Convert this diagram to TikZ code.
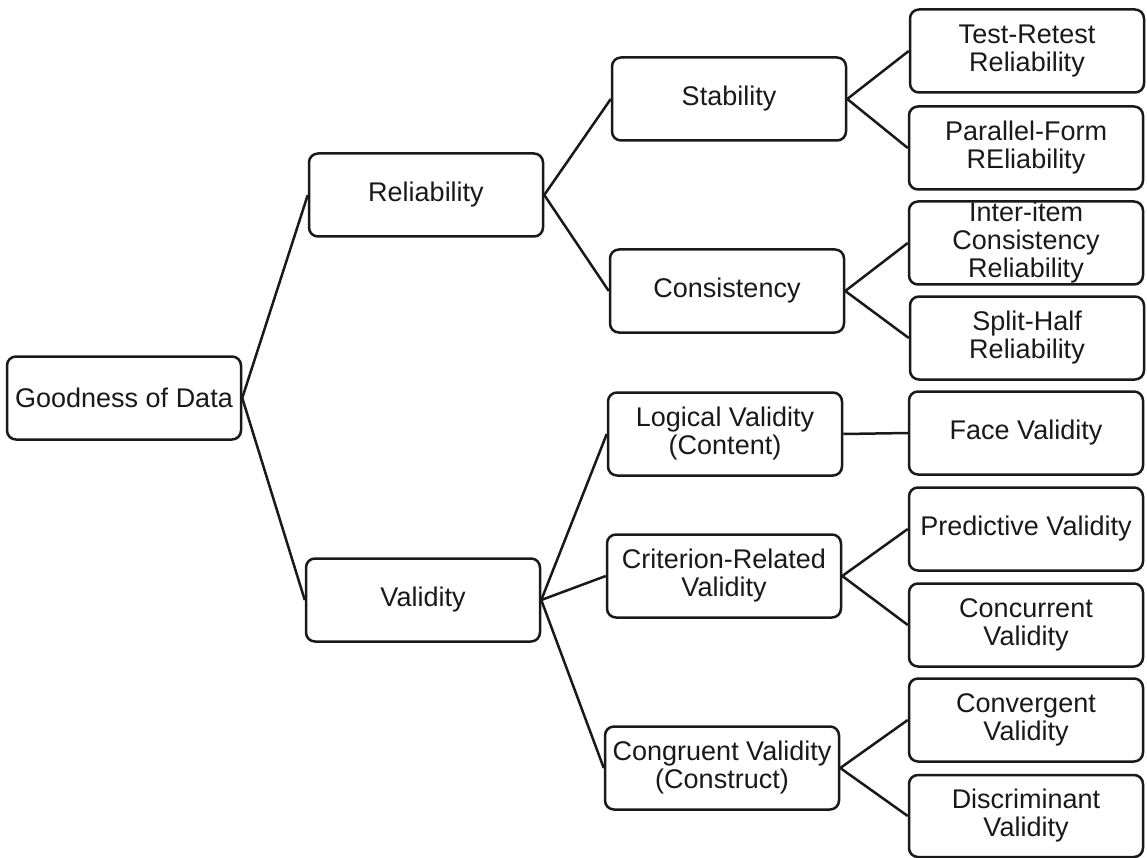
\documentclass[tikz,border=0pt]{standalone}
\usepackage{fontspec}
\setmainfont{Liberation Sans}
\begin{document}
\begin{tikzpicture}[x=1pt,y=-1pt,
  box/.style={draw=black!90, line width=2.5pt, rounded corners=9pt, fill=white,
    minimum width=234pt, minimum height=83pt, align=center, inner sep=0pt,
    text=black!90, font=\fontsize{27}{28}\selectfont},
  link/.style={draw=black!90, line width=2.5pt}]
\fill[white] (0,0) rectangle (1147,858);
\useasboundingbox (0,0) rectangle (1147,858);
% level 0
\node[box] (good) at (124,398) {Goodness of Data};
% level 1
\node[box] (rel) at (426,195) {Reliability};
\node[box] (val) at (423,600) {Validity};
% level 2
\node[box] (stab) at (729,99) {Stability};
\node[box] (cons) at (727,291) {Consistency};
\node[box] (logi) at (725,434) {Logical Validity\\(Content)};
\node[box] (crit) at (724,576) {Criterion-Related\\Validity};
\node[box] (cong) at (722,768) {Congruent Validity\\(Construct)};
% level 3
\node[box] (tr) at (1027,51) {Test-Retest\\Reliability};
\node[box] (pf) at (1026,148) {Parallel-Form\\REliability};
\node[box] (ii) at (1026,243) {Inter-item\\Consistency\\Reliability};
\node[box] (sh) at (1027,338) {Split-Half\\Reliability};
\node[box] (face) at (1026,433) {Face Validity};
\node[box] (pred) at (1026,529) {Predictive Validity};
\node[box] (conc) at (1026,625) {Concurrent\\Validity};
\node[box] (conv) at (1026,720) {Convergent\\Validity};
\node[box, minimum height=82pt] (disc) at (1026,816) {Discriminant\\Validity};
% connectors
\draw[link] (good.east) -- (rel.west);
\draw[link] (good.east) -- (val.west);
\draw[link] (rel.east) -- (stab.west);
\draw[link] (rel.east) -- (cons.west);
\draw[link] (val.east) -- (logi.west);
\draw[link] (val.east) -- (crit.west);
\draw[link] (val.east) -- (cong.west);
\draw[link] (stab.east) -- (tr.west);
\draw[link] (stab.east) -- (pf.west);
\draw[link] (cons.east) -- (ii.west);
\draw[link] (cons.east) -- (sh.west);
\draw[link] (logi.east) -- (face.west);
\draw[link] (crit.east) -- (pred.west);
\draw[link] (crit.east) -- (conc.west);
\draw[link] (cong.east) -- (conv.west);
\draw[link] (cong.east) -- (disc.west);
\end{tikzpicture}
\end{document}
